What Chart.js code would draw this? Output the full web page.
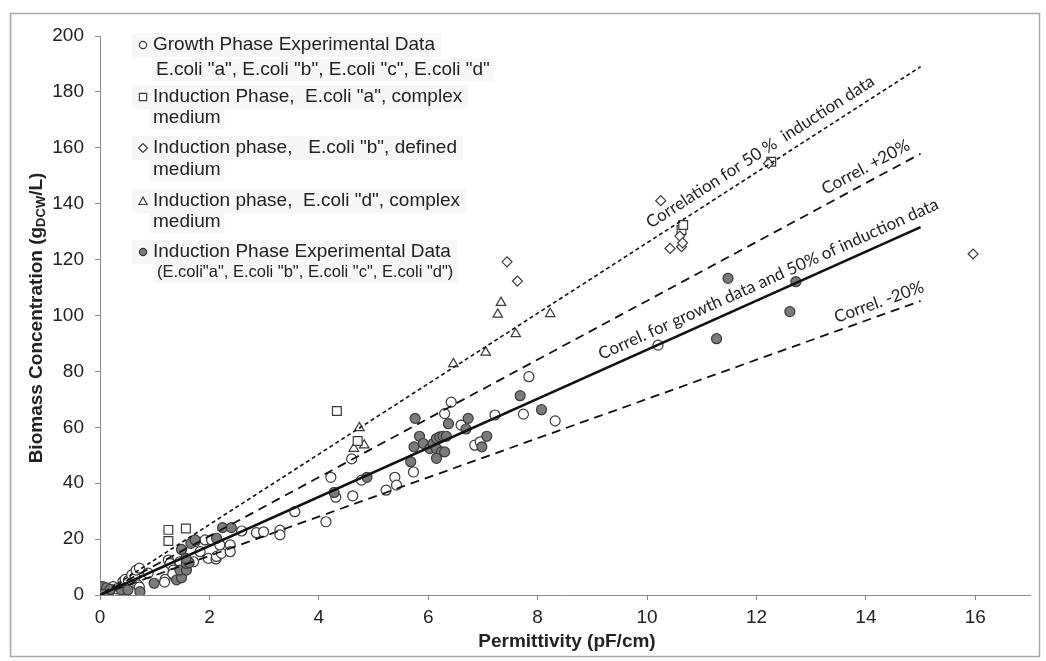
<!DOCTYPE html>
<html><head><meta charset="utf-8">
<script src="https://cdn.jsdelivr.net/npm/chart.js@4.4.1/dist/chart.umd.min.js"></script>
<style>html,body{margin:0;padding:0;background:#fff}#wrap{width:1046px;height:661px;position:relative}</style>
</head><body><div id="wrap"><canvas id="c" width="1046" height="661"></canvas></div>
<script>
// ---- data ----
const growthPhase = [[0.02,0.6],[0.05,1.6],[0.1,2.6],[0.16,1.2],[0.24,3.0],[0.3,2.2],[0.42,4.8],[0.46,5.6],[0.52,5.2],[0.58,7.2],[0.64,6.4],[0.66,8.9],[0.69,3.6],[0.72,9.6],[0.72,2.8],[0.88,7.8],[1.19,5.6],[1.18,4.6],[1.25,12.5],[1.28,11.2],[1.34,8.9],[1.33,7.6],[1.46,11.9],[1.71,11.9],[1.74,19.1],[1.83,15.5],[1.92,19.7],[2.04,19.7],[1.98,13.1],[2.12,12.9],[2.13,13.8],[2.22,14.9],[2.19,17.9],[2.38,17.9],[2.38,15.5],[2.59,22.9],[2.86,22.3],[2.99,22.6],[3.29,23.2],[3.29,21.5],[3.56,29.8],[4.13,26.2],[4.22,42.1],[4.31,35.0],[4.62,35.5],[4.6,48.7],[4.78,41.1],[5.23,37.5],[5.39,42.1],[5.42,39.3],[5.73,44.0],[6.3,64.9],[6.42,69.0],[6.6,60.8],[6.85,53.6],[6.95,54.8],[7.22,64.4],[7.74,64.7],[7.84,78.1],[8.32,62.3],[10.2,89.4]];
const inductionA = [[1.25,23.3],[1.25,19.3],[1.57,23.8],[4.33,65.8],[4.71,55.1],[10.63,130.6],[10.66,132.4],[12.27,155.0]];
const inductionB = [[7.44,119.2],[7.63,112.3],[10.25,141.1],[10.42,124.0],[10.6,128.4],[10.63,124.6],[10.65,126.0],[12.22,154.4],[15.96,122.0]];
const inductionD = [[4.74,59.8],[4.83,53.6],[4.64,52.4],[6.46,82.7],[7.05,86.8],[7.33,104.6],[7.27,100.4],[7.6,93.4],[8.23,100.6]];
const inductionAll = [[0,0],[0.02,1.0],[0.03,2.0],[0.05,3.0],[0.08,0.5],[0.1,1.5],[0.12,2.6],[0.15,0.8],[0.19,2.0],[0.06,0.2],[0.39,1.8],[0.51,1.8],[0.73,1.2],[0.99,4.2],[1.4,5.4],[1.49,6.2],[1.46,8.9],[1.58,8.9],[1.58,11.3],[1.63,11.6],[1.57,13.1],[1.49,16.3],[1.66,18.5],[1.74,19.7],[2.13,20.3],[2.24,24.1],[2.4,24.1],[4.28,36.7],[4.88,42.1],[5.68,47.7],[5.74,53.0],[5.76,63.2],[5.84,56.8],[5.91,54.2],[6.03,52.4],[6.09,54.2],[6.15,56.0],[6.21,56.6],[6.27,56.8],[6.33,56.8],[6.15,52.4],[6.24,51.2],[6.15,48.9],[6.3,51.2],[6.37,61.3],[6.69,59.4],[6.73,63.2],[6.98,53.0],[7.07,56.8],[7.68,71.3],[8.07,66.3],[11.27,91.7],[11.48,113.3],[12.61,101.4],[12.72,112.1]];
// correlation lines: endpoints [x, y]
const corrInduction = [[0,0],[15,189.0]];
const corrPlus20 = [[0,0],[15,157.9]];
const corrGrowth = [[0,0],[15,131.6]];
const corrMinus20 = [[0,0],[15,105.2]];
const xTickValues = [0,2,4,6,8,10,12,14,16];
const yTickValues = [0,20,40,60,80,100,120,140,160,180,200];
const xTitle = 'Permittivity (pF/cm)';
const yTitleParts = ['Biomass Concentration (g','DCW','/L)'];
const lineLabels = ['Correlation for 50 %  induction data','Correl. +20%','Correl. for growth data and 50% of induction data','Correl. -20%'];
const legendEntries = [
  ['Growth Phase Experimental Data','E.coli "a", E.coli "b", E.coli "c", E.coli "d"'],
  ['Induction Phase,  E.coli "a", complex','medium'],
  ['Induction phase,   E.coli "b", defined','medium'],
  ['Induction phase,  E.coli "d", complex','medium'],
  ['Induction Phase Experimental Data','(E.coli"a", E.coli "b", E.coli "c", E.coli "d")']
];

const toXY = a => a.map(p => ({x:p[0], y:p[1]}));
const STROKE = '#3a3a3a';
const FILLED = '#7b7b7b';

const lineDs = (d, dash, w) => ({type:'scatter', data: toXY(d), showLine:true, pointRadius:0, borderColor:'#111', borderWidth:w, borderDash:dash, fill:false, tension:0});
const ptDs = (d, style, r, bg) => ({type:'scatter', data: toXY(d), pointStyle:style, pointRadius:r, pointHoverRadius:r, backgroundColor:bg, borderColor:STROKE, borderWidth:1.2, showLine:false});

const FONT = '"Liberation Sans", Arial, sans-serif';

const decor = {
  id:'decor',
  beforeDraw(chart){
    const ctx = chart.ctx; ctx.save(); ctx.fillStyle='#fff'; ctx.fillRect(0,0,chart.width,chart.height); ctx.restore();
  },
  afterDraw(chart){
    const ctx = chart.ctx, xs = chart.scales.x, ys = chart.scales.y;
    ctx.save();
    // outer frame
    ctx.strokeStyle='#a8a8a8'; ctx.lineWidth=1.5;
    ctx.strokeRect(10.5,13.5,1029,643);
    // line labels
    const specs = [
      [corrInduction, 12.22, 15.2, lineLabels[0]],
      [corrPlus20, 14.12, 14.2, lineLabels[1]],
      [corrGrowth, 12.33, 14.8, lineLabels[2]],
      [corrMinus20, 14.32, 13.0, lineLabels[3]]
    ];
    ctx.font = '17px Lato, "Open Sans", sans-serif';
    ctx.fillStyle = '#222';
    specs.forEach(([pts, xv, off, txt]) => {
      const p0x = xs.getPixelForValue(pts[0][0]), p0y = ys.getPixelForValue(pts[0][1]);
      const p1x = xs.getPixelForValue(pts[1][0]), p1y = ys.getPixelForValue(pts[1][1]);
      const ang = Math.atan2(p1y-p0y, p1x-p0x);
      const t = (xv-pts[0][0])/(pts[1][0]-pts[0][0]);
      const cx = p0x+(p1x-p0x)*t, cy = p0y+(p1y-p0y)*t;
      ctx.save(); ctx.translate(cx,cy); ctx.rotate(ang);
      ctx.textAlign='center'; ctx.textBaseline='middle';
      ctx.fillText(txt, 0, -off);
      ctx.restore();
    });
    // legend
    const mx = 143, tx = 153;
    const rows = [[45,70],[97,118],[148,170],[201,222],[252,272]];
    const subX = [156,153,153,153,157];
    const styles = ['circle','rect','rectRot','triangle','circleFilled'];
    legendEntries.forEach((e,i) => {
      const [y1,y2] = rows[i];
      ctx.font = '19px '+FONT;
      const w1 = ctx.measureText(e[0]).width;
      ctx.font = (i===4 ? '16.5px ' : '19px ')+FONT;
      const w2 = ctx.measureText(e[1]).width;
      ctx.fillStyle = '#f7f7f7';
      ctx.fillRect(132, y1-12, tx+w1+6-132, 24);
      ctx.fillRect(subX[i]-4, y2-11, w2+8, 22);
      // marker
      ctx.strokeStyle = STROKE; ctx.lineWidth=1.2;
      ctx.beginPath();
      const s = styles[i];
      if (s==='circle' || s==='circleFilled') { ctx.arc(mx,y1,3.6,0,Math.PI*2); ctx.fillStyle = s==='circle' ? '#fff' : FILLED; ctx.fill(); ctx.stroke(); }
      else if (s==='rect') { ctx.fillStyle='#fff'; ctx.rect(mx-3.6,y1-3.6,7.2,7.2); ctx.fill(); ctx.stroke(); }
      else if (s==='rectRot') { ctx.moveTo(mx-4.5,y1); ctx.lineTo(mx,y1-4.5); ctx.lineTo(mx+4.5,y1); ctx.lineTo(mx,y1+4.5); ctx.closePath(); ctx.fillStyle='#fff'; ctx.fill(); ctx.stroke(); }
      else { ctx.moveTo(mx-4,y1+3.5); ctx.lineTo(mx,y1-4); ctx.lineTo(mx+4,y1+3.5); ctx.closePath(); ctx.fillStyle='#fff'; ctx.fill(); ctx.stroke(); }
      ctx.fillStyle = '#222'; ctx.textAlign='left'; ctx.textBaseline='middle';
      ctx.font = '19px '+FONT; ctx.fillText(e[0], tx, y1);
      ctx.font = (i===4 ? '16.5px ' : '19px ')+FONT; ctx.fillText(e[1], subX[i], y2);
    });
    // x title
    ctx.fillStyle='#222';
    ctx.font = 'bold 19px '+FONT; ctx.textAlign='center'; ctx.textBaseline='middle';
    ctx.fillText(xTitle, (chart.chartArea.left+chart.chartArea.right)/2+2, 642);
    // y title with subscript
    ctx.save(); ctx.translate(37, 318); ctx.rotate(-Math.PI/2);
    ctx.font = 'bold 19px '+FONT; const a = ctx.measureText(yTitleParts[0]).width;
    const c = ctx.measureText(yTitleParts[2]).width;
    ctx.font = 'bold 13px '+FONT; const b = ctx.measureText(yTitleParts[1]).width;
    let x0 = -(a+b+c)/2;
    ctx.textAlign='left'; ctx.textBaseline='middle';
    ctx.font = 'bold 19px '+FONT; ctx.fillText(yTitleParts[0], x0, 0);
    ctx.font = 'bold 13px '+FONT; ctx.fillText(yTitleParts[1], x0+a, 4);
    ctx.font = 'bold 19px '+FONT; ctx.fillText(yTitleParts[2], x0+a+b, 0);
    ctx.restore();
    ctx.restore();
  }
};

new Chart(document.getElementById('c'), {
  type:'scatter',
  data:{ datasets:[
    lineDs(corrInduction,[4,3],1.6),
    lineDs(corrPlus20,[9,6],1.8),
    lineDs(corrGrowth,[],2.6),
    lineDs(corrMinus20,[9,6],1.8),
    ptDs(inductionB,'rectRot',5,'#fff'),
    ptDs(inductionA,'rect',6.2,'#fff'),
    ptDs(inductionD,'triangle',5.5,'#fff'),
    ptDs(inductionAll,'circle',5,FILLED),
    ptDs(growthPhase,'circle',5,'#fff')
  ]},
  options:{
    responsive:false, animation:false, devicePixelRatio:1,
    layout:{padding:{left:0,top:36,right:16,bottom:0}},
    plugins:{legend:{display:false}, tooltip:{enabled:false}},
    scales:{
      x:{type:'linear', min:0, max:17,
        afterBuildTicks: ax => { ax.ticks = xTickValues.map(v => ({value:v})); },
        afterFit: s => { s.height = 66; },
        ticks:{font:{family:FONT,size:19}, color:'#222', padding:6, maxRotation:0},
        grid:{drawOnChartArea:false, drawTicks:true, tickLength:5, color:'#8a8a8a', tickColor:'#8a8a8a'},
        border:{display:true, color:'#8a8a8a', width:1}
      },
      y:{type:'linear', min:0, max:200,
        afterBuildTicks: ax => { ax.ticks = yTickValues.map(v => ({value:v})); },
        afterFit: s => { s.width = 100; },
        ticks:{font:{family:FONT,size:19}, color:'#222', padding:11},
        grid:{drawOnChartArea:false, drawTicks:true, tickLength:5, color:'#8a8a8a', tickColor:'#8a8a8a'},
        border:{display:true, color:'#8a8a8a', width:1}
      }
    }
  },
  plugins:[decor]
});
</script></body></html>
